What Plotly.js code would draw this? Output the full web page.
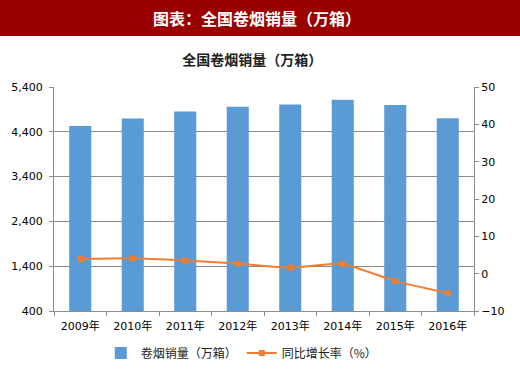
<!DOCTYPE html>
<html><head><meta charset="utf-8">
<script src="https://cdn.plot.ly/plotly-3.0.1.min.js"></script>
<style>html,body{margin:0;padding:0;background:#fff;}#chart{width:520px;height:387px;}</style>
</head><body><div id="chart"></div>
<script>
const years = ["2009年","2010年","2011年","2012年","2013年","2014年","2015年","2016年"];
const sales = [4532, 4698, 4855, 4958, 5012, 5115, 5000, 4705];
const growth = [3.9, 4.1, 3.5, 2.7, 1.6, 2.6, -2.0, -5.2];
const leftTicks = [400, 1400, 2400, 3400, 4400, 5400];
const rightTicks = [-10, 0, 10, 20, 30, 40, 50];
const headerText = "图表：全国卷烟销量（万箱）";
const chartTitle = "全国卷烟销量（万箱）";
const barName = "卷烟销量（万箱）";
const lineName = "同比增长率（%）";

const cjk = '"Noto Sans CJK SC", "DejaVu Sans", sans-serif';
const num = '"DejaVu Sans", "Noto Sans CJK SC", sans-serif';

const traces = [
  {type:'bar', x: years, y: sales, name: barName, marker:{color:'#5B9BD5'}, yaxis:'y'},
  {type:'scatter', mode:'lines+markers', x: years, y: growth, name: lineName, yaxis:'y2',
   line:{color:'#ED7D31', width:2, shape:'spline', smoothing:0.5},
   marker:{symbol:'square', size:6, color:'#ED7D31'}}
];

const layout = {
  width:520, height:387,
  margin:{l:54, r:46, t:87, b:76},
  paper_bgcolor:'#fff', plot_bgcolor:'#fff',
  bargap:0.58,
  showlegend:true,
  title:{text:chartTitle, font:{family:cjk, size:14, color:'#222', weight:'bold'}, x:0.485, xanchor:'center', y:0.845, yanchor:'middle'},
  xaxis:{type:'category', showgrid:false, showline:true, linecolor:'#8c8c8c', linewidth:1,
    ticks:'outside', tickson:'boundaries', ticklen:4, tickcolor:'#8c8c8c', ticklabelstandoff:5,
    tickfont:{family:num, size:11, color:'#000'}},
  yaxis:{range:[400,5400], tickvals:leftTicks, tickformat:',', showgrid:true, gridcolor:'#8c8c8c', gridwidth:1,
    showline:true, linecolor:'#8c8c8c', ticks:'outside', ticklen:4, tickcolor:'#8c8c8c', ticklabelstandoff:4,
    tickfont:{family:num, size:11, color:'#000'}, zeroline:false, fixedrange:true},
  yaxis2:{range:[-10,50], tickvals:rightTicks, overlaying:'y', side:'right', showgrid:false,
    showline:true, linecolor:'#8c8c8c', ticks:'outside', ticklen:4, tickcolor:'#8c8c8c',
    tickfont:{family:num, size:11, color:'#000'}, zeroline:false},
  legend:{orientation:'h', xref:'container', x:0.465, xanchor:'center', yref:'container', y:1-353/387, yanchor:'middle',
    font:{family:cjk, size:12, color:'#222'}, itemwidth:30, traceorder:'normal'},
  shapes:[{type:'rect', xref:'paper', yref:'paper', x0:-54/420, x1:466/420, y0:(311-36)/224, y1:311/224,
    fillcolor:'#9A0000', line:{width:0}, layer:'above'}],
  annotations:[{text:headerText, xref:'paper', yref:'paper', x:(257-54)/420, y:(311-18)/224, xanchor:'center', yanchor:'middle',
    showarrow:false, font:{family:cjk, size:16, color:'#fff', weight:'bold'}}]
};

Plotly.newPlot('chart', traces, layout, {displayModeBar:false, staticPlot:true});
</script></body></html>
